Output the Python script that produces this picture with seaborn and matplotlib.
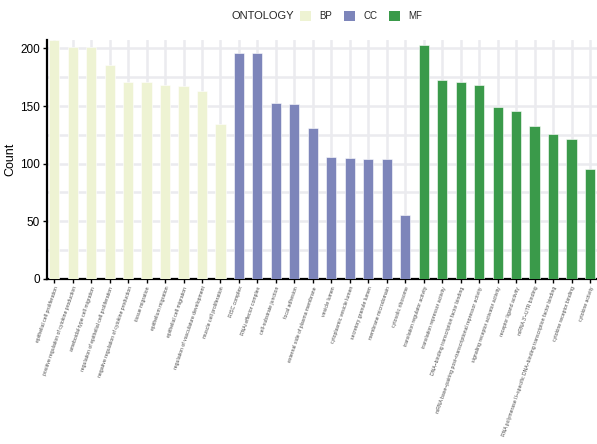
import numpy as np
import pandas as pd
import matplotlib
matplotlib.use("Agg")
import matplotlib.pyplot as plt
from matplotlib.patches import Patch
import seaborn as sns

bp_terms = ["epithelial cell proliferation", "positive regulation of cytokine production",
            "ameboidal-type cell migration", "regulation of epithelial cell proliferation",
            "negative regulation of cytokine production", "tissue migration",
            "epithelium migration", "epithelial cell migration",
            "regulation of vasculature development", "muscle cell proliferation"]
bp_counts = [207, 201, 201, 186, 171, 171, 168, 167, 163, 134]

cc_terms = ["RISC complex", "RNAi effector complex", "cell-substrate junction", "focal adhesion",
            "external side of plasma membrane", "vesicle lumen", "cytoplasmic vesicle lumen",
            "secretory granule lumen", "membrane microdomain", "cytosolic ribosome"]
cc_counts = [196, 196, 153, 152, 131, 106, 105, 104, 104, 55]

mf_terms = ["translation regulator activity", "translation repressor activity",
            "DNA\u2212binding transcription factor binding",
            "mRNA base\u2212pairing post\u2212transcriptional repressor activity",
            "signaling receptor activator activity", "receptor ligand activity",
            "mRNA 3'\u2212UTR binding",
            "RNA polymerase II\u2212specific DNA\u2212binding transcription factor binding",
            "cytokine receptor binding", "cytokine activity"]
mf_counts = [203, 173, 171, 168, 149, 146, 133, 126, 121, 95]

ontologies = ["BP", "CC", "MF"]
palette = {"BP": "#EEF3D3", "CC": "#7D85BA", "MF": "#3A9A4A"}

df = pd.DataFrame({
    "Description": bp_terms + cc_terms + mf_terms,
    "Count": bp_counts + cc_counts + mf_counts,
    "ONTOLOGY": ["BP"] * len(bp_terms) + ["CC"] * len(cc_terms) + ["MF"] * len(mf_terms),
})

sns.set_style("white")
plt.rcParams["font.family"] = ["Liberation Sans", "DejaVu Sans"]

fig = plt.figure(figsize=(5.97, 4.44), dpi=100)
ax = fig.add_axes([0.079, 0.372, 0.921, 0.537])

sns.barplot(data=df, x="Description", y="Count", hue="ONTOLOGY", palette=palette,
            dodge=False, width=0.55, saturation=1, legend=False, ax=ax, zorder=3,
            edgecolor="white", linewidth=0.4)

n = len(df)
ax.set_xlim(-0.38, n - 0.62)
ax.set_ylim(0, 207)
ax.set_yticks([0, 50, 100, 150, 200])
ax.set_yticks([25, 75, 125, 175], minor=True)
ax.grid(True, which="both", color="#EBEBEF", linewidth=1.8, zorder=0)
ax.set_axisbelow(True)

for s in ["top", "right"]:
    ax.spines[s].set_visible(False)
for s in ["left", "bottom"]:
    ax.spines[s].set_color("black")
    ax.spines[s].set_linewidth(1.6)

ax.tick_params(axis="y", which="major", length=3, width=1, color="black",
               labelsize=8.5, labelcolor="black", left=True, pad=2)
ax.tick_params(axis="y", which="minor", length=0)
ax.tick_params(axis="x", length=3, width=1, color="black", bottom=True, pad=2)
ax.set_xticks(range(n))
ax.set_xticklabels(df["Description"], rotation=71, ha="right",
                   rotation_mode="anchor", fontsize=3.7, color="#4D4D4D")
ax.set_xlabel("")
ax.set_ylabel("Count", fontsize=9, color="black", labelpad=3)

handles = [Patch(facecolor=palette[o], edgecolor="none") for o in ontologies]
fig.text(0.388, 0.963, "ONTOLOGY", fontsize=8, va="center", ha="left")
fig.legend(handles, ontologies, ncol=3, loc="center left",
           bbox_to_anchor=(0.503, 0.963), frameon=False, fontsize=7,
           handlelength=1.1, handleheight=1.1, handletextpad=0.9,
           columnspacing=1.2, borderaxespad=0, borderpad=0)

fig.savefig("out.png", dpi=100)
